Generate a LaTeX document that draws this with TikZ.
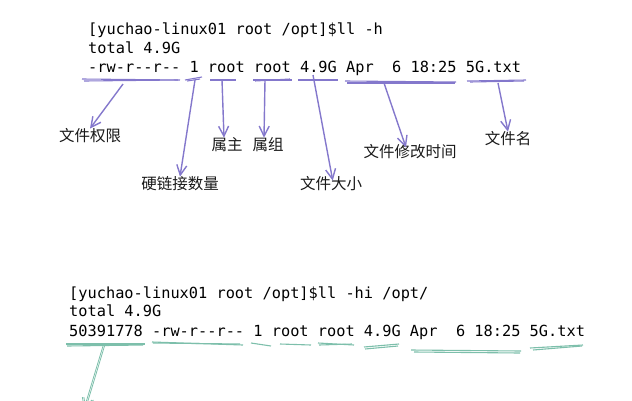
\documentclass[tikz,border=0pt]{standalone}
\usepackage{fontspec}
\usetikzlibrary{arrows.meta}
\newfontfamily\termfont{DejaVu Sans Mono}
\newfontfamily\cjkfont{Noto Sans CJK SC}
\definecolor{penviolet}{HTML}{8478CC}
\definecolor{penteal}{HTML}{7DBFAB}
\tikzset{
  term/.style={anchor=base west,inner sep=0pt,font=\termfont\fontsize{15.3}{16}\selectfont,text=black},
  tag/.style={inner sep=0pt,font=\cjkfont\fontsize{15.5}{16}\selectfont,text=black!90},
  underviolet/.style={draw=penviolet,line width=1.1pt},
  underteal/.style={draw=penteal,line width=1.1pt},
  pointer/.style={draw=penviolet,line width=1.4pt,-{Straight Barb[length=10pt,width=10pt]}},
}
\begin{document}
\begin{tikzpicture}[x=1pt,y=-1pt]
    \useasboundingbox (0,0) rectangle (632,400);
    \clip (0,0) rectangle (632,400);

    % first listing
    \node[term] (prompta) at (88,34) {[yuchao-linux01 root /opt]\$ll -h};
    \node[term] (totala)  at (88,53) {total 4.9G};
    \node[term] (linea)   at (88,72) {-rw-r--r-- 1 root root 4.9G Apr\ \ 6 18:25 5G.txt};

    \node[tag] (perm)  at (90,136)  {文件权限};
    \node[tag] (links) at (180,184) {硬链接数量};
    \node[tag] (owner) at (227,145) {属主};
    \node[tag] (group) at (268,145) {属组};
    \node[tag] (size)  at (331,184) {文件大小};
    \node[tag] (mtime) at (410,152) {文件修改时间};
    \node[tag] (fname) at (508,139) {文件名};

    \coordinate (permstart)  at (123,84);
    \coordinate (linkstart)  at (195,80);
    \coordinate (ownerstart) at (222,80);
    \coordinate (groupstart) at (265,80);
    \coordinate (sizestart)  at (313,75);
    \coordinate (mtimestart) at (384,83);
    \coordinate (fnamestart) at (498,83);

    % violet strokes under the fields
    \foreach \xa/\ya/\xb/\yb in {82/79/180/80, 84/81/178/80, 185/80/202/77, 187/81/200/79,
        210/80/236/80, 253/80/292/80, 255/81/290/79, 298/80/338/80, 345/81/456/82, 347/83/455/83,
        467/81/526/80, 470/82/524/81}
      \draw[underviolet] (\xa,\ya) -- (\xb,\yb);

    \path[every edge/.style={pointer}]
    (permstart) edge (perm.north)
    (linkstart) edge (links.north)
    (ownerstart) edge ([xshift=-3pt]owner.north)
    (groupstart) edge ([xshift=-4pt]group.north)
    (sizestart) edge [shorten >=-4pt] ([xshift=1pt]size.north)
    (mtimestart) edge [shorten >=-3pt] ([xshift=-5pt]mtime.north)
    (fnamestart) edge (fname.north)
    ;

    % second listing
    \node[term] (promptb) at (69,298) {[yuchao-linux01 root /opt]\$ll -hi /opt/};
    \node[term] (totalb)  at (69,316) {total 4.9G};
    \node[term] (lineb)   at (69,336) {50391778 -rw-r--r-- 1 root root 4.9G Apr\ \ 6 18:25 5G.txt};

    \foreach \xa/\ya/\xb/\yb in {66/344/145/344, 67/346/143/345, 152/342/243/345, 153/343/240/344,
        251/343/271/346, 280/344/311/345, 318/343/354/345, 319/345/352/344, 364/347/399/344, 365/349/398/346,
        411/350/521/351, 414/352/520/353, 530/348/583/345, 533/350/582/346}
      \draw[underteal] (\xa,\ya) -- (\xb,\yb);

    \coordinate (inodestart) at (103,346);
    \coordinate (inodeend)   at (84,409);
    \path[every edge/.style={pointer,draw=penteal,line width=0.8pt}]
    (inodestart) edge (inodeend)
    ([xshift=1.5pt]inodestart) edge ([xshift=1.5pt]inodeend)
    ;
\end{tikzpicture}
\end{document}
